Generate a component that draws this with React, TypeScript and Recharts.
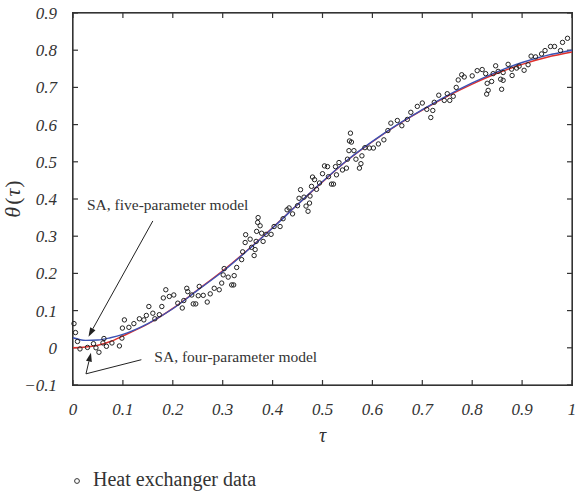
import {
  ComposedChart,
  Customized,
  Line,
  ReferenceDot,
  ReferenceLine,
  Scatter,
  XAxis,
  YAxis,
} from "recharts"

const SERIF = "'Liberation Serif', 'DejaVu Serif', serif"
const INK = "#333333"
const FRAME = "#333333"

const WIDTH = 575
const HEIGHT = 494
const MARGIN = { top: 13, right: 3, left: 13, bottom: 49 }
const Y_AXIS_W = 60
const X_AXIS_H = 60

const xDomain = [0, 1]
const yDomain = [-0.1, 0.9]
const xTicks = [0, 0.1, 0.2, 0.3, 0.4, 0.5, 0.6, 0.7, 0.8, 0.9, 1]
const yTicks = [-0.1, 0, 0.1, 0.2, 0.3, 0.4, 0.5, 0.6, 0.7, 0.8, 0.9]

const measuredTau = [
  0.002, 0.005, 0.009, 0.014, 0.029, 0.041, 0.046, 0.052, 0.06, 0.062, 0.067, 0.078, 0.093, 0.098,
  0.099, 0.103, 0.112, 0.122, 0.133, 0.142, 0.147, 0.152, 0.16, 0.164, 0.173, 0.178, 0.181, 0.186,
  0.193, 0.202, 0.21, 0.219, 0.222, 0.228, 0.23, 0.238, 0.241, 0.246, 0.251, 0.253, 0.261, 0.269,
  0.275, 0.283, 0.293, 0.298, 0.301, 0.303, 0.311, 0.318, 0.322, 0.323, 0.328, 0.338, 0.34, 0.345,
  0.346, 0.355, 0.358, 0.363, 0.365, 0.367, 0.368, 0.37, 0.371, 0.375, 0.378, 0.381, 0.387, 0.397,
  0.403, 0.415, 0.421, 0.429, 0.433, 0.44, 0.45, 0.453, 0.456, 0.463, 0.467, 0.471, 0.474, 0.475,
  0.478, 0.48, 0.484, 0.488, 0.494, 0.5, 0.504, 0.51, 0.512, 0.518, 0.522, 0.526, 0.528, 0.533,
  0.54, 0.548, 0.55, 0.553, 0.554, 0.556, 0.558, 0.563, 0.567, 0.574, 0.577, 0.579, 0.585, 0.594,
  0.602, 0.612, 0.623, 0.631, 0.637, 0.65, 0.659, 0.67, 0.677, 0.69, 0.7, 0.709, 0.717, 0.721,
  0.724, 0.733, 0.744, 0.75, 0.755, 0.762, 0.768, 0.772, 0.779, 0.784, 0.8, 0.81, 0.82, 0.827,
  0.829, 0.832, 0.83, 0.839, 0.842, 0.847, 0.852, 0.857, 0.859, 0.862, 0.862, 0.872, 0.879, 0.88,
  0.889, 0.894, 0.904, 0.912, 0.918, 0.927, 0.939, 0.946, 0.957, 0.965, 0.977, 0.981, 0.991,
]
const measuredTheta = [
  0.065, 0.041, 0.017, -0.003, 0.001, 0.011, 0.0, -0.012, 0.013, 0.025, 0.004, 0.013, 0.005, 0.026,
  0.053, 0.075, 0.055, 0.065, 0.078, 0.075, 0.087, 0.111, 0.093, 0.078, 0.089, 0.111, 0.134, 0.156,
  0.138, 0.142, 0.12, 0.107, 0.127, 0.16, 0.151, 0.142, 0.118, 0.118, 0.14, 0.165, 0.141, 0.123,
  0.145, 0.16, 0.156, 0.174, 0.196, 0.213, 0.19, 0.169, 0.169, 0.194, 0.216, 0.237, 0.258, 0.283,
  0.304, 0.292, 0.27, 0.248, 0.264, 0.286, 0.313, 0.337, 0.35, 0.328, 0.308, 0.286, 0.305, 0.305,
  0.326, 0.326, 0.347, 0.371, 0.376, 0.36, 0.382, 0.402, 0.425, 0.405, 0.381, 0.367, 0.389, 0.408,
  0.434, 0.459, 0.452, 0.426, 0.443, 0.468, 0.489, 0.487, 0.46, 0.44, 0.44, 0.487, 0.465, 0.498,
  0.478, 0.483, 0.507, 0.53, 0.556, 0.577, 0.553, 0.53, 0.507, 0.483, 0.495, 0.516, 0.538, 0.537,
  0.537, 0.548, 0.559, 0.584, 0.604, 0.611, 0.597, 0.614, 0.633, 0.649, 0.658, 0.641, 0.619, 0.638,
  0.66, 0.679, 0.665, 0.683, 0.665, 0.676, 0.7, 0.72, 0.734, 0.728, 0.731, 0.745, 0.748, 0.737,
  0.682, 0.692, 0.711, 0.716, 0.737, 0.758, 0.743, 0.722, 0.695, 0.719, 0.74, 0.762, 0.749, 0.732,
  0.752, 0.757, 0.746, 0.761, 0.784, 0.782, 0.79, 0.799, 0.81, 0.81, 0.799, 0.821, 0.832,
]

// simulated annealing fits, sampled along tau
const fitTau = [
  0, 0.025, 0.05, 0.075, 0.1, 0.15, 0.2, 0.25, 0.3, 0.35, 0.4, 0.45, 0.5, 0.55, 0.6, 0.65, 0.7,
  0.75, 0.8, 0.85, 0.9, 0.95, 1,
]
const fourParamFit = [
  0.0, 0.002, 0.007, 0.017, 0.032, 0.064, 0.106, 0.156, 0.207, 0.263, 0.323, 0.385, 0.446, 0.504,
  0.554, 0.599, 0.639, 0.676, 0.709, 0.738, 0.762, 0.781, 0.795,
]
const fiveParamFit = [
  0.027, 0.02, 0.021, 0.027, 0.036, 0.065, 0.105, 0.155, 0.205, 0.262, 0.322, 0.385, 0.447, 0.505,
  0.555, 0.6, 0.64, 0.678, 0.712, 0.742, 0.767, 0.786, 0.8,
]

// annotation leaders, in data units
const fiveNote = { x: 0.028, y: 0.371 }
const fiveArrow = [{ x: 0.16, y: 0.341 }, { x: 0.031, y: 0.03 }]
const fourNote = { x: 0.163, y: -0.037 }
const fourLeader = [{ x: 0.137, y: -0.032 }, { x: 0.026, y: -0.07 }]
const fourArrow = [{ x: 0.026, y: -0.07 }, { x: 0.036, y: -0.013 }]

const measured = measuredTau.map((x, i) => ({ x, y: measuredTheta[i] }))
const fourParam = fitTau.map((x, i) => ({ x, y: fourParamFit[i] }))
const fiveParam = fitTau.map((x, i) => ({ x, y: fiveParamFit[i] }))

const fmtX = (v: number) => (v === 0 ? "0" : v === 1 ? "1" : v.toFixed(1))
const fmtY = (v: number) => (v < 0 ? "\u2212" + Math.abs(v).toFixed(1) : v === 0 ? "0" : v.toFixed(1))

const tickStyle = { fill: INK, fontSize: 17, fontStyle: "italic", fontFamily: SERIF }

// plot box, same numbers the chart gets through margin and axis sizes
const plot = {
  left: MARGIN.left + Y_AXIS_W,
  top: MARGIN.top,
  right: WIDTH - MARGIN.right,
  bottom: HEIGHT - MARGIN.bottom - X_AXIS_H,
}
const px = (v: number) =>
  plot.left + ((v - xDomain[0]) / (xDomain[1] - xDomain[0])) * (plot.right - plot.left)
const py = (v: number) =>
  plot.bottom - ((v - yDomain[0]) / (yDomain[1] - yDomain[0])) * (plot.bottom - plot.top)

const Hollow = (p: any) => (
  <circle cx={p.cx} cy={p.cy} r={2.2} fill="none" stroke="#222" strokeWidth={1} />
)

const leader = (head: boolean) => (p: any) => {
  const x1 = Number(p.x1), y1 = Number(p.y1), x2 = Number(p.x2), y2 = Number(p.y2)
  const a = Math.atan2(y2 - y1, x2 - x1)
  const len = 9, half = 3
  const bx = x2 - len * Math.cos(a), by = y2 - len * Math.sin(a)
  const pts = [
    `${x2},${y2}`,
    `${bx + half * Math.sin(a)},${by - half * Math.cos(a)}`,
    `${bx - half * Math.sin(a)},${by + half * Math.cos(a)}`,
  ].join(" ")
  return (
    <g>
      <line x1={x1} y1={y1} x2={head ? bx : x2} y2={head ? by : y2} stroke="#222" strokeWidth={1} />
      {head && <polygon points={pts} fill="#222" />}
    </g>
  )
}

const Note = ({ viewBox, text }: any) => (
  <text x={viewBox.x} y={viewBox.y} fill={INK} fontSize={15.5} fontFamily={SERIF}>
    {text}
  </text>
)

// boxed frame with inward ticks, drawn as filled strips so it does not depend on strokes
const FrameMarks = () => (
  <g fill={FRAME} stroke="none">
    <rect x={plot.left - 1} y={plot.top - 1} width={plot.right - plot.left + 2} height={1.6} />
    <rect x={plot.left - 1} y={plot.bottom - 0.6} width={plot.right - plot.left + 2} height={1.6} />
    <rect x={plot.left - 1} y={plot.top - 1} width={1.6} height={plot.bottom - plot.top + 2} />
    <rect x={plot.right - 0.6} y={plot.top - 1} width={1.6} height={plot.bottom - plot.top + 2} />
    {xTicks.map((t) => (
      <g key={`x${t}`}>
        <rect x={px(t) - 0.6} y={plot.bottom - 5} width={1.2} height={5} />
        <rect x={px(t) - 0.6} y={plot.top} width={1.2} height={5} />
      </g>
    ))}
    {yTicks.map((t) => (
      <g key={`y${t}`}>
        <rect x={plot.left} y={py(t) - 0.6} width={5} height={1.2} />
        <rect x={plot.right - 5} y={py(t) - 0.6} width={5} height={1.2} />
      </g>
    ))}
  </g>
)

const Extras = () => (
  <g>
    <FrameMarks />
    <text
      x={20}
      y={199}
      transform="rotate(-90, 20, 199)"
      textAnchor="middle"
      fill={INK}
      fontSize={22}
      fontFamily={SERIF}
    >
      <tspan fontStyle="italic">θ</tspan>
      <tspan dx={2}>(</tspan>
      <tspan dx={1} fontStyle="italic">τ</tspan>
      <tspan dx={1}>)</tspan>
    </text>
    <circle cx={77} cy={481} r={2.4} fill="none" stroke={INK} strokeWidth={1} />
    <text x={93} y={486} fill={INK} fontSize={20} fontFamily={SERIF}>
      Heat exchanger data
    </text>
  </g>
)

export default function App() {
  return (
    <div style={{ position: "absolute", left: 0, top: 0, width: WIDTH, height: HEIGHT, background: "#fff" }}>
      <ComposedChart width={WIDTH} height={HEIGHT} margin={MARGIN}>
        <XAxis
          dataKey="x"
          type="number"
          domain={xDomain}
          ticks={xTicks}
          tickFormatter={fmtX}
          height={X_AXIS_H}
          axisLine={false}
          tickLine={false}
          tickMargin={12}
          tick={tickStyle}
          interval={0}
          label={{ value: "τ", position: "insideBottom", offset: 3, fill: INK, fontSize: 20, fontStyle: "italic", fontFamily: SERIF }}
        />
        <YAxis
          type="number"
          domain={yDomain}
          ticks={yTicks}
          tickFormatter={fmtY}
          width={Y_AXIS_W}
          axisLine={false}
          tickLine={false}
          tickMargin={10}
          tick={tickStyle}
          interval={0}
        />
        <Scatter data={measured} dataKey="y" shape={Hollow} isAnimationActive={false} />
        <Line
          data={fourParam}
          dataKey="y"
          type="monotone"
          stroke="#e0302c"
          strokeWidth={1.4}
          dot={false}
          isAnimationActive={false}
        />
        <Line
          data={fiveParam}
          dataKey="y"
          type="monotone"
          stroke="#3c52b4"
          strokeWidth={1.4}
          dot={false}
          isAnimationActive={false}
        />
        <ReferenceLine segment={fiveArrow} shape={leader(true)} />
        <ReferenceLine segment={fourLeader} shape={leader(false)} />
        <ReferenceLine segment={fourArrow} shape={leader(true)} />
        <ReferenceDot x={fiveNote.x} y={fiveNote.y} r={0} label={<Note text="SA, five-parameter model" />} />
        <ReferenceDot x={fourNote.x} y={fourNote.y} r={0} label={<Note text="SA, four-parameter model" />} />
        <Customized component={Extras} />
      </ComposedChart>
    </div>
  )
}
